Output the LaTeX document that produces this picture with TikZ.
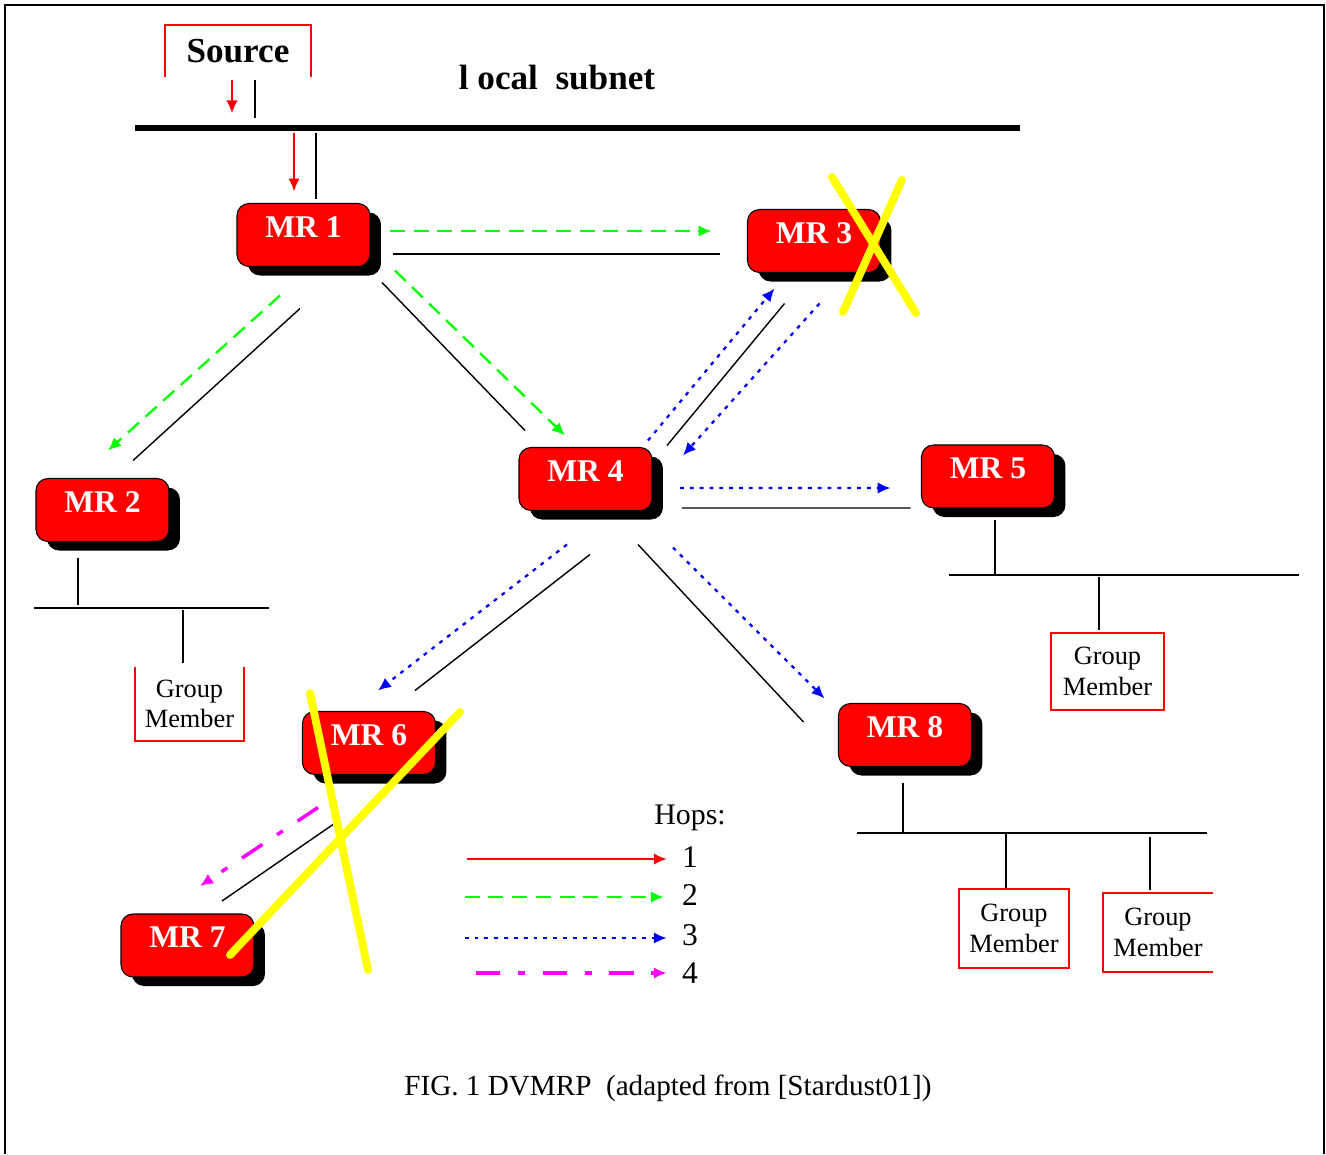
\documentclass[tikz,border=0pt]{standalone}
\usepackage{fontspec}
\setmainfont{Liberation Serif}
\usetikzlibrary{arrows.meta,calc,positioning,shadows}
\definecolor{hopgreen}{RGB}{0,255,0}
\definecolor{hopblue}{RGB}{0,0,255}
\definecolor{hopmagenta}{RGB}{255,0,255}
\definecolor{crossyellow}{RGB}{255,255,0}
\definecolor{routerred}{RGB}{255,0,0}
\tikzset{
  router/.style={draw=black, line width=0.6pt, fill=routerred, rounded corners=0.24cm, minimum width=2.66cm, minimum height=1.26cm, inner sep=0pt, outer sep=0pt, text=white, font=\bfseries\fontsize{18}{18}\selectfont, text height=0.42cm, text depth=0.34cm, drop shadow={shadow xshift=0.22cm, shadow yshift=-0.18cm, fill=black, opacity=1}},
  member/.style={draw=routerred, line width=1.1pt, fill=white, minimum width=2.2cm, minimum height=1.56cm, inner sep=0pt, outer sep=0pt, align=center, font=\fontsize{15}{17.5}\selectfont},
  memberopen/.style={member, draw=none},
  edgered/.style={routerred, line width=1.1pt},
  legendtext/.style={inner sep=0pt, font=\fontsize{18}{18}\selectfont},
  wire/.style={black, line width=0.8pt},
  lan/.style={black, line width=1pt},
  bus/.style={black, line width=3.4pt},
  hopone/.style={-{Latex[length=2.6mm,width=2.3mm]}, routerred, line width=1.1pt},
  hoptwo/.style={-{Latex[length=2.6mm,width=2.3mm]}, hopgreen, line width=1.3pt, dash pattern=on 8.5pt off 5pt},
  hopthree/.style={-{Latex[length=2.6mm,width=2.3mm]}, hopblue, line width=1.3pt, dash pattern=on 2.2pt off 3.4pt},
  hopfour/.style={-{Latex[length=2.6mm,width=2.3mm]}, hopmagenta, line width=2pt, dash pattern=on 14pt off 10pt on 4pt off 10pt},
  cross/.style={crossyellow, line width=4.5pt, line cap=round}
}

\begin{document}
\begin{tikzpicture}[x=0.02cm,y=-0.02cm]
  \useasboundingbox (0,0) rectangle (1326,1154);
  \draw[line width=1.3pt] (5,1154) -- (5,5) -- (1324,5) -- (1324,1154);

  % source and local subnet
  \node[font=\bfseries\fontsize{20}{20}\selectfont, minimum width=2.92cm, minimum height=1.04cm, inner sep=0pt] (src) at (238,51) {Source};
  \draw[edgered] (src.south west) -- (src.north west) -- (src.north east) -- (src.south east);
  \node[font=\bfseries\fontsize{20}{20}\selectfont] (subnet) at (557,78) {l ocal\ \ subnet};
  \coordinate (busw) at (135,128);
  \coordinate (buse) at (1020,128);
  \draw[bus] (busw) -- (buse);

  \node[router] (mr1) at (303.5,235) {MR 1};
  \node[router] (mr3) at (814,241) {MR 3};
  \node[router] (mr2) at (102.5,510) {MR 2};
  \node[router] (mr4) at (585.5,479) {MR 4};
  \node[router] (mr5) at (988,476.5) {MR 5};
  \node[router] (mr6) at (369,743) {MR 6};
  \node[router] (mr7) at (187.5,945.5) {MR 7};
  \node[router] (mr8) at (905,735) {MR 8};

  \node[memberopen, minimum width=2.18cm, minimum height=1.48cm] (gm2) at (189.5,704) {Group\\Member};
  \node[member, minimum width=2.26cm, minimum height=1.54cm] (gm5) at (1107.5,671.5) {Group\\Member};
  \node[member, minimum width=2.2cm, minimum height=1.58cm] (gm8a) at (1014,928.5) {Group\\Member};
  \node[memberopen, minimum width=2.2cm, minimum height=1.58cm] (gm8b) at (1158,932.5) {Group\\Member};
  \draw[edgered] (gm2.north west) -- (gm2.south west) -- (gm2.south east) -- (gm2.north east);
  \draw[edgered] (gm8b.north east) -- (gm8b.north west) -- (gm8b.south west) -- (gm8b.south east);

  \draw[hopone] ([shift={(-6,3)}]src.south) -- ([shift={(-6,36)}]src.south);
  \draw[wire] ([shift={(17,3)}]src.south) -- ([shift={(17,41)}]src.south);
  \draw[hopone] ([shift={(-9.5,-71)}]mr1.north) -- ([shift={(-9.5,-12)}]mr1.north);
  \draw[wire] ([shift={(12.5,-71)}]mr1.north) -- ([shift={(12.5,-5)}]mr1.north);

  \draw[hoptwo] ([shift={(20,-4)}]mr1.east) -- ([shift={(-36,-10)}]mr3.west);
  \draw[wire] ([shift={(23,19)}]mr1.east) -- ([shift={(-28,13)}]mr3.west);
  \draw[hoptwo] ([shift={(-23.5,29)}]mr1.south) -- ([shift={(5.5,-28)}]mr2.north);
  \draw[wire] ([shift={(-3.5,42)}]mr1.south) -- ([shift={(30.5,-18)}]mr2.north);
  \draw[wire] ([shift={(12,16)}]mr1.south east) -- ([shift={(6,-17)}]mr4.north west);
  \draw[hoptwo] ([shift={(25,4)}]mr1.south east) -- ([shift={(46,-12)}]mr4.north west);

  \draw[hopthree] ([shift={(-4,-7)}]mr4.north east) -- ([shift={(27,16)}]mr3.south west);
  \draw[wire] ([shift={(15,-2)}]mr4.north east) -- ([shift={(37,31)}]mr3.south west);
  \draw[hopthree] ([shift={(72,31)}]mr3.south west) -- ([shift={(31,8)}]mr4.north east);
  \draw[hopthree] ([shift={(28,9)}]mr4.east) -- ([shift={(-31,11.5)}]mr5.west);
  \draw[wire] ([shift={(30,29)}]mr4.east) -- ([shift={(-11,31.5)}]mr5.west);
  \draw[hopthree] ([shift={(-18.5,34)}]mr4.south) -- ([shift={(9,-21)}]mr6.north);
  \draw[wire] ([shift={(4.5,44)}]mr4.south) -- ([shift={(46,-21)}]mr6.north);
  \draw[wire] ([shift={(52.5,34)}]mr4.south) -- ([shift={(-35,-13)}]mr8.west);
  \draw[hopthree] ([shift={(87.5,37)}]mr4.south) -- ([shift={(-14,-5)}]mr8.north west);

  \draw[hopfour] ([shift={(-51,33)}]mr6.south) -- ([shift={(12.5,-28)}]mr7.north);
  \draw[wire] ([shift={(-36,50)}]mr6.south) -- ([shift={(34.5,-13)}]mr7.north);

  % member subnets
  \draw[lan] ([shift={(-24.5,16)}]mr2.south) -- ++(0,47);
  \draw[lan] (34,608) -- (269,608);
  \draw[lan] ([shift={(-6.5,-57)}]gm2.north) -- ([shift={(-6.5,-4)}]gm2.north);
  \draw[lan] ([shift={(7,12)}]mr5.south) -- ++(0,55);
  \draw[lan] (949,575) -- (1299,575);
  \draw[lan] ([shift={(-8.5,-56)}]gm5.north) -- ([shift={(-8.5,-3)}]gm5.north);
  \draw[lan] ([shift={(-2,16)}]mr8.south) -- ++(0,50);
  \draw[lan] (857,833) -- (1207,833);
  \draw[lan] ([shift={(-8,-56)}]gm8a.north) -- ([shift={(-8,-1)}]gm8a.north);
  \draw[lan] ([shift={(-8,-56)}]gm8b.north) -- ([shift={(-8,-3)}]gm8b.north);

  \draw[cross] (832,177) -- (916,313);
  \draw[cross] (902,180) -- (843,312);
  \draw[cross] (310,693) -- (368,970);
  \draw[cross] (460,712) -- (230,955);

  % legend
  \node[legendtext, font=\fontsize{17}{17}\selectfont] (hops) at (690,818) {Hops:};
  \node[legendtext] (h1) at (690,857) {1};
  \node[legendtext] (h2) at (690,895) {2};
  \node[legendtext] (h3) at (690,935) {3};
  \node[legendtext] (h4) at (690,973) {4};
  \draw[hopone] ([shift={(-215,2)}]h1.west) -- ([shift={(-15,2)}]h1.west);
  \draw[hoptwo] ([shift={(-217,2)}]h2.west) -- ([shift={(-18,2)}]h2.west);
  \draw[hopthree] ([shift={(-217,3)}]h3.west) -- ([shift={(-15,3)}]h3.west);
  \draw[hopfour] ([shift={(-206,0)}]h4.west) -- ([shift={(-15,0)}]h4.west);

  \node[font=\fontsize{16.6}{16.6}\selectfont] (caption) at (668,1088) {FIG. 1 DVMRP\ \ (adapted from [Stardust01])};
\end{tikzpicture}
\end{document}
